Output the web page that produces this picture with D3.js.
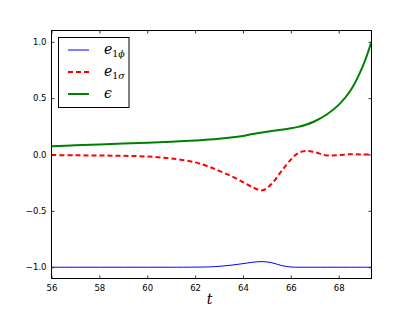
<!DOCTYPE html>
<html>
<head>
<meta charset="utf-8">
<script src="https://cdn.jsdelivr.net/npm/d3@7"></script>
<style>
  body { margin: 0; background: #fff; }
  svg { display: block; }
</style>
</head>
<body>
<svg width="413" height="310"></svg>
<script>
// sample times
var tVals = [56, 57, 58, 59, 60, 61, 62, 62.6, 63, 63.5, 64, 64.4, 64.8, 65.2, 65.6, 66, 66.3, 66.6, 67, 67.5, 68, 68.5, 69, 69.37];
// e_{1phi}
var e1phi = [-1, -1, -1, -1, -1, -1, -0.999, -0.997, -0.992, -0.982, -0.968, -0.956, -0.95, -0.96, -0.984, -0.998, -1, -1, -1, -1, -1, -1, -1, -1];
// e_{1sigma}
var e1sigma = [-0.005, -0.007, -0.009, -0.012, -0.018, -0.035, -0.07, -0.11, -0.145, -0.19, -0.245, -0.29, -0.318, -0.26, -0.15, -0.045, 0.012, 0.032, 0.02, -0.008, -0.005, 0.003, 0.0, 0.0];
// epsilon
var eps = [0.074, 0.081, 0.089, 0.097, 0.105, 0.114, 0.125, 0.132, 0.139, 0.15, 0.165, 0.181, 0.196, 0.208, 0.219, 0.232, 0.245, 0.262, 0.295, 0.355, 0.44, 0.57, 0.78, 1.0];

var xTicks = [56, 58, 60, 62, 64, 66, 68];
var yTicks = [-1.0, -0.5, 0.0, 0.5, 1.0];

var svg = d3.select("svg"),
	margin = {left: 51.5, right: 41.5, top: 30.5, bottom: 31.5},
	width = 413 - margin.left - margin.right,
	height = 310 - margin.top - margin.bottom;

var x = d3.scaleLinear().domain([56, 69.37]).range([0, width]);
var y = d3.scaleLinear().domain([-1.1, 1.1]).range([height, 0]);

var g = svg.append("g").attr("transform", "translate(" + margin.left + "," + margin.top + ")");

var fmt = function (d) { return d3.format(".1f")(d).replace("-", "\u2212"); };

// axes, ticks pointing inward on all four sides
function styleAxis(sel) {
	sel.select(".domain").remove();
	sel.selectAll("line").attr("stroke", "#000").attr("stroke-width", 0.8);
	sel.selectAll("text").attr("font-family", "DejaVu Sans").attr("font-size", "8.5px").attr("fill", "#000");
}

g.append("g").attr("transform", "translate(0," + height + ")")
	.call(d3.axisBottom(x).tickValues(xTicks).tickSize(-3).tickPadding(6).tickFormat(d3.format("d")))
	.call(styleAxis);
g.append("g")
	.call(d3.axisTop(x).tickValues(xTicks).tickSize(-3).tickFormat(""))
	.call(styleAxis);
g.append("g")
	.call(d3.axisLeft(y).tickValues(yTicks).tickSize(-3).tickPadding(5).tickFormat(fmt))
	.call(styleAxis);
g.append("g").attr("transform", "translate(" + width + ",0)")
	.call(d3.axisRight(y).tickValues(yTicks).tickSize(-3).tickFormat(""))
	.call(styleAxis);

var defs = svg.append("defs");
defs.append("clipPath").attr("id", "clip").append("rect").attr("width", width).attr("height", height);

var line = function (vals) {
	return d3.line()
		.x(function (d, i) { return x(tVals[i]); })
		.y(function (d) { return y(d); })
		.curve(d3.curveCatmullRom.alpha(0.5))(vals);
};

var series = [
	{vals: e1phi, color: "#0000ff", w: 1, dash: null},
	{vals: e1sigma, color: "#ff0000", w: 2, dash: "5,3"},
	{vals: eps, color: "#008000", w: 2, dash: null}
];

var plot = g.append("g").attr("clip-path", "url(#clip)");
series.forEach(function (s) {
	plot.append("path")
		.attr("d", line(s.vals))
		.attr("fill", "none")
		.attr("stroke", s.color)
		.attr("stroke-width", s.w)
		.attr("stroke-dasharray", s.dash);
});

// frame
g.append("rect").attr("width", width).attr("height", height)
	.attr("fill", "none").attr("stroke", "#000").attr("stroke-width", 1);

// x label
svg.append("text")
	.attr("x", margin.left + x(62.6)).attr("y", 304)
	.attr("text-anchor", "middle")
	.attr("font-family", "DejaVu Serif").attr("font-style", "italic").attr("font-size", "14px")
	.text("t");

// legend
var leg = svg.append("g");
leg.append("rect").attr("x", 58.5).attr("y", 37.5).attr("width", 70.5).attr("height", 70)
	.attr("fill", "#fff").attr("stroke", "#000").attr("stroke-width", 1);

var labels = [["e", "1", "\u03d5"], ["e", "1", "\u03c3"], ["\u03f5", "", ""]];
series.forEach(function (s, i) {
	var ly = 50 + i * 22;
	leg.append("line").attr("x1", 68).attr("x2", 89).attr("y1", ly).attr("y2", ly)
		.attr("stroke", s.color).attr("stroke-width", s.w).attr("stroke-dasharray", s.dash);
	var t = leg.append("text").attr("x", 104).attr("y", ly + 4)
		.attr("font-family", "DejaVu Serif").attr("font-size", "14px");
	t.append("tspan").attr("font-style", "italic").text(labels[i][0]);
	if (labels[i][1]) {
		t.append("tspan").attr("font-size", "9.5px").attr("dy", 3).text(labels[i][1]);
		t.append("tspan").attr("font-size", "9.5px").attr("font-style", "italic").text(labels[i][2]);
	}
});
</script>
</body>
</html>
